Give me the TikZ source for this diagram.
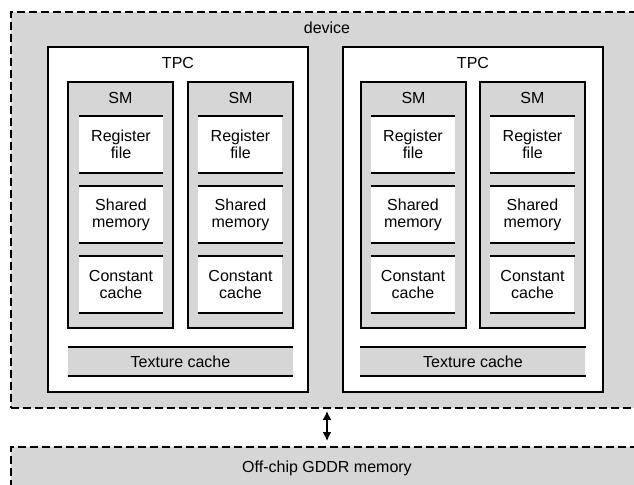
\documentclass[tikz,border=0pt]{standalone}
\usepackage{fontspec}
\setmainfont{Liberation Sans}
\usetikzlibrary{arrows.meta,positioning}
\definecolor{grisfondo}{RGB}{214,214,214}

\begin{document}
\begin{tikzpicture}[
  x=0.5pt, y=-0.5pt,
  font=\fontsize{8}{8.5}\selectfont,
  zona/.style   = {draw, dash pattern=on 4pt off 2pt, line width=0.9pt,
                   fill=grisfondo, inner sep=0pt},
  tpcblk/.style = {draw, line width=1pt, fill=white, inner sep=0pt,
                   minimum width=130pt, minimum height=172.5pt},
  smblk/.style  = {draw, line width=1pt, fill=grisfondo, inner sep=0pt,
                   minimum width=52.5pt, minimum height=123pt},
  barras/.style = {append after command={
                   (\tikzlastnode.north west) edge[line width=1pt] (\tikzlastnode.north east)
                   (\tikzlastnode.south west) edge[line width=1pt] (\tikzlastnode.south east)}},
  memblk/.style = {barras, fill=white, align=center, inner sep=0pt,
                   minimum width=42pt, minimum height=28.5pt},
  texblk/.style = {barras, fill=grisfondo, inner sep=0pt,
                   minimum width=112.5pt, minimum height=14.5pt},
  lbl/.style    = {inner sep=0pt},
  arr/.style    = {{Latex[length=4.5pt,width=4.5pt]}-{Latex[length=4.5pt,width=4.5pt]},
                   line width=1.3pt, shorten <=1pt, shorten >=2.5pt}
]
\useasboundingbox (0,0) rectangle (634,485);
\clip (0,0) rectangle (634,485);

% Zonas exteriores
\node[zona, minimum width=324.5pt, minimum height=198pt] (dev)  at (335.5,210) {};
\node[zona, minimum width=324.5pt, minimum height=36.5pt] (gddr) at (335.5,483.5) {};
\node[lbl] (devlbl)  at (327,28)  {device};
\node[lbl] (gddrlbl) at (327,468) {Off-chip GDDR memory};

% TPC izquierdo
\node[tpcblk] (tpcA) at (178,219.5) {};
\node[lbl]    (tpcAlbl) at (178,63) {TPC};
\node[smblk]  (smA1) at (120.5,205) {};
\node[smblk]  (smA2) at (240.5,205) {};
\node[lbl] at (120.5,98) (smA1lbl) {SM};
\node[lbl] at (240.5,98) (smA2lbl) {SM};
\node[memblk] (regA1)   at (121,144.5) {Register\\file};
\node[memblk] (shA1)    at (121,214.5) {Shared\\memory};
\node[memblk] (cstA1)   at (121,284.5) {Constant\\cache};
\node[memblk] (regA2)   at (240.5,144.5) {Register\\file};
\node[memblk] (shA2)    at (240.5,214.5) {Shared\\memory};
\node[memblk] (cstA2)   at (240.5,284.5) {Constant\\cache};
\node[texblk] (texA)    at (180.5,361.5) {Texture cache};

% TPC derecho
\node[tpcblk] (tpcB) at (473,219.5) {};
\node[lbl]    (tpcBlbl) at (473,63) {TPC};
\node[smblk]  (smB1) at (413.5,205) {};
\node[smblk]  (smB2) at (532.5,205) {};
\node[lbl] at (413.5,98) (smB1lbl) {SM};
\node[lbl] at (532.5,98) (smB2lbl) {SM};
\node[memblk] (regB1)   at (413,144.5) {Register\\file};
\node[memblk] (shB1)    at (413,214.5) {Shared\\memory};
\node[memblk] (cstB1)   at (413,284.5) {Constant\\cache};
\node[memblk] (regB2)   at (532.5,144.5) {Register\\file};
\node[memblk] (shB2)    at (532.5,214.5) {Shared\\memory};
\node[memblk] (cstB2)   at (532.5,284.5) {Constant\\cache};
\node[texblk] (texB)    at (473,361.5) {Texture cache};

% Enlace con la memoria externa
\draw[arr] (dev.south -| devlbl) -- (gddr.north -| devlbl);

\end{tikzpicture}
\end{document}
